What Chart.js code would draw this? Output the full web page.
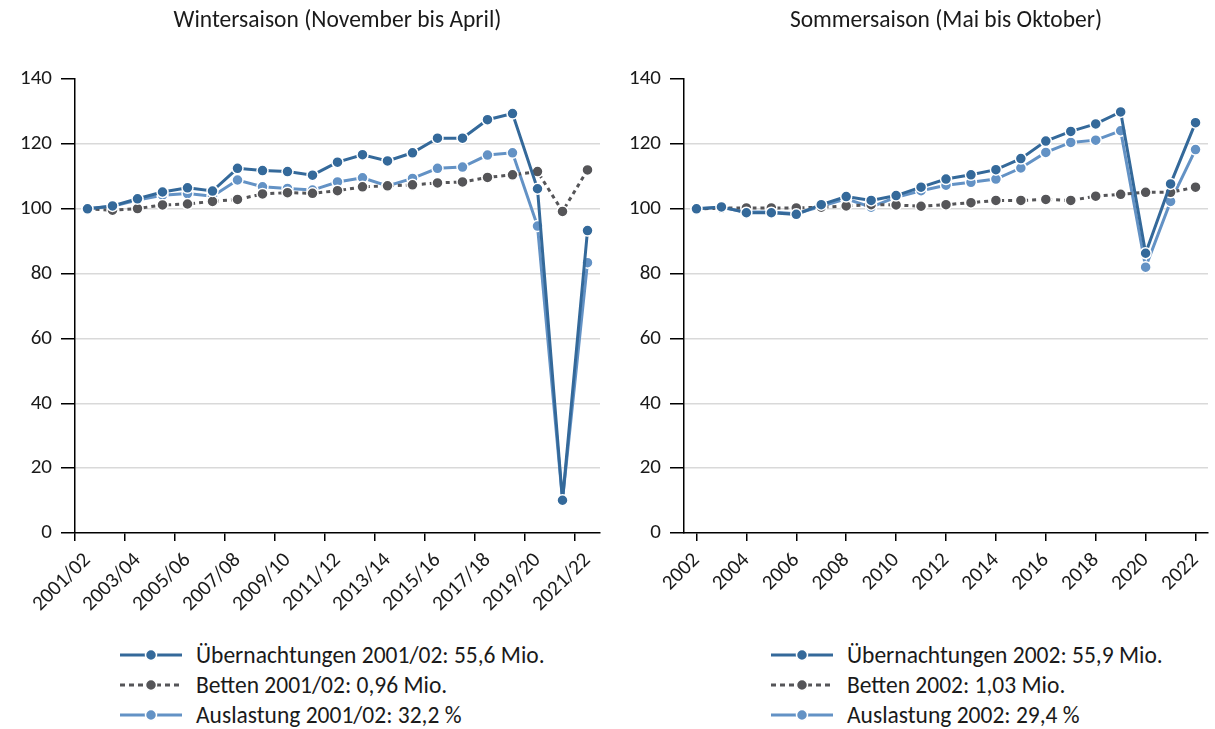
<!DOCTYPE html>
<html lang="de">
<head>
<meta charset="utf-8">
<script src="https://cdn.jsdelivr.net/npm/chart.js@4/dist/chart.umd.min.js"></script>
<style>
  html, body { margin: 0; padding: 0; background: #fff; }
  body { width: 1215px; height: 729px; position: relative; overflow: hidden;
         font-family: Carlito, Lato, "Liberation Sans", sans-serif; color: #1a1a1a; }
  .box { position: absolute; top: 0; height: 640px; }
  .legend { position: absolute; font-size: 23.5px; line-height: 30px; }
  .legend div { display: flex; align-items: center; height: 30px; white-space: nowrap; }
  .legend svg { margin-right: 14px; }
</style>
</head>
<body>
<div class="box" style="left:0;width:607px"><canvas id="winterChart"></canvas></div>
<div class="box" style="left:607px;width:608px"><canvas id="sommerChart"></canvas></div>
<div class="legend" id="winterLegend" style="left:120px;top:640px"></div>
<div class="legend" id="sommerLegend" style="left:771px;top:640px"></div>
<script>
// ── data ──────────────────────────────────────────────────────────────────
const winterLabels = ['2001/02','2002/03','2003/04','2004/05','2005/06','2006/07','2007/08','2008/09','2009/10','2010/11',
  '2011/12','2012/13','2013/14','2014/15','2015/16','2016/17','2017/18','2018/19','2019/20','2020/21','2021/22'];
const winterUebernachtungen = [100,100.9,103.1,105.2,106.5,105.5,112.5,111.8,111.5,110.4,114.4,116.7,114.8,117.3,121.8,121.8,127.5,129.4,106.2,10.1,93.3];
const winterBetten          = [100,99.6,100.1,101.2,101.5,102.3,102.9,104.6,105.0,104.8,105.6,106.8,107.1,107.4,108.0,108.3,109.7,110.5,111.5,99.2,112.0];
const winterAuslastung      = [100,100.8,102.7,104.2,104.7,103.9,108.9,106.8,106.3,105.8,108.3,109.6,107.1,109.4,112.5,112.9,116.6,117.3,94.7,10.2,83.4];

const sommerLabels = ['2002','2003','2004','2005','2006','2007','2008','2009','2010','2011','2012',
  '2013','2014','2015','2016','2017','2018','2019','2020','2021','2022'];
const sommerUebernachtungen = [100,100.6,98.8,98.8,98.3,101.3,103.8,102.6,104.1,106.7,109.2,110.5,112.1,115.5,120.9,123.9,126.2,129.9,86.3,107.7,126.6];
const sommerBetten          = [100,100.2,100.3,100.3,100.3,100.5,100.9,101.3,101.2,100.8,101.3,101.9,102.6,102.6,102.9,102.6,103.9,104.5,105.1,105.1,106.7];
const sommerAuslastung      = [100,100.4,99.0,99.0,98.5,100.8,103.1,100.5,103.6,105.6,107.3,108.2,109.2,112.6,117.4,120.5,121.2,124.1,82.0,102.3,118.3];

const yTicks = [0,20,40,60,80,100,120,140];

const winterLegendText = ['Übernachtungen 2001/02: 55,6 Mio.', 'Betten 2001/02: 0,96 Mio.', 'Auslastung 2001/02: 32,2 %'];
const sommerLegendText = ['Übernachtungen 2002: 55,9 Mio.', 'Betten 2002: 1,03 Mio.', 'Auslastung 2002: 29,4 %'];

// ── style ─────────────────────────────────────────────────────────────────
const FONT = 'Carlito, Lato, "Liberation Sans", sans-serif';
const TEXT = '#1a1a1a';
const colDark = '#34699a', colGrey = '#555558', colLight = '#6392c5';

function series(label, data, color, dash) {
  return {
    label, data,
    borderColor: color, backgroundColor: color,
    borderWidth: 3, borderDash: dash || [], borderCapStyle: 'butt',
    pointRadius: 5.5, pointBorderColor: '#fff', pointBorderWidth: 1.5,
    pointBackgroundColor: color, tension: 0, fill: false
  };
}

function makeChart(id, title, labels, ueb, bet, aus, yWidth, xOffsetGrid) {
  new Chart(document.getElementById(id), {
    type: 'line',
    data: {
      labels,
      datasets: [
        series('Übernachtungen', ueb, colDark),
        series('Betten', bet, colGrey, [4, 4]),
        series('Auslastung', aus, colLight)
      ]
    },
    options: {
      responsive: true, maintainAspectRatio: false, animation: false,
      layout: { padding: { left: 0, right: 2, top: 0, bottom: 0 } },
      plugins: {
        legend: { display: false },
        tooltip: { enabled: false },
        // centred over the plot area, not the whole canvas
        title: { display: true, fullSize: false, text: title, color: TEXT,
                 font: { family: FONT, size: 23.5, weight: 'normal' },
                 padding: { top: 7, bottom: 44 } }
      },
      scales: {
        x: {
          offset: true,
          grid: {
            offset: xOffsetGrid, drawOnChartArea: false, drawTicks: true, tickLength: 8, lineWidth: 1.5,
            color: ctx => (ctx.index % 2 === 0 ? '#000' : 'rgba(0,0,0,0)')
          },
          border: { display: true, color: '#000', width: 1.5 },
          ticks: {
            autoSkip: false, minRotation: 45, maxRotation: 45, padding: 7,
            color: TEXT, font: { family: FONT, size: 21 },
            callback: (v, i) => (i % 2 === 0 ? labels[i] : '')
          },
          // rotated labels hang to the left, no extra room needed on the right
          afterFit: s => { s.height = 107; s.paddingRight = 0; s.paddingLeft = 0; }
        },
        y: {
          min: 0, max: 140,
          afterBuildTicks: s => { s.ticks = yTicks.map(v => ({ value: v })); },
          grid: {
            color: ctx => (ctx.tick && (ctx.tick.value === 140 || ctx.tick.value === 0) ? 'rgba(0,0,0,0)' : '#d9d9d9'),
            tickColor: '#000', lineWidth: 1.5, tickLength: 14, drawTicks: true
          },
          border: { display: true, color: '#000', width: 1.5 },
          ticks: { color: TEXT, font: { family: FONT, size: 21 }, padding: 9 },
          afterFit: s => { s.width = yWidth; }
        }
      }
    }
  });
}

makeChart('winterChart', 'Wintersaison (November bis April)', winterLabels,
  winterUebernachtungen, winterBetten, winterAuslastung, 75, true);
makeChart('sommerChart', 'Sommersaison (Mai bis Oktober)', sommerLabels,
  sommerUebernachtungen, sommerBetten, sommerAuslastung, 77, false);

// ── legends ───────────────────────────────────────────────────────────────
function legendSample(color, dashed) {
  const dash = dashed ? 'stroke-dasharray="5 4"' : '';
  return `<svg width="62" height="14" viewBox="0 0 62 14">
    <line x1="0" y1="7" x2="62" y2="7" stroke="${color}" stroke-width="3" ${dash}/>
    <circle cx="31" cy="7" r="5.5" fill="${color}" stroke="#fff" stroke-width="1.5"/></svg>`;
}
function buildLegend(id, texts) {
  const cols = [[colDark, false], [colGrey, true], [colLight, false]];
  document.getElementById(id).innerHTML = texts.map((t, i) =>
    `<div>${legendSample(cols[i][0], cols[i][1])}<span>${t}</span></div>`).join('');
}
buildLegend('winterLegend', winterLegendText);
buildLegend('sommerLegend', sommerLegendText);
</script>
</body>
</html>
